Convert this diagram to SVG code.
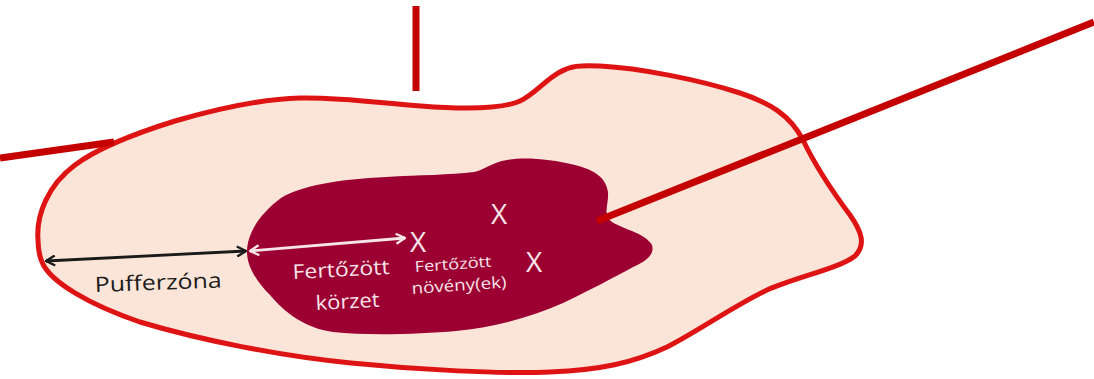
<svg xmlns="http://www.w3.org/2000/svg" width="1094" height="379" viewBox="0 0 1094 379">
<defs>
<style>
.conn{stroke:#C40000;stroke-width:7;fill:none;stroke-linecap:butt}
.lbl{font-family:"Open Sans","Liberation Sans",sans-serif}
.w{fill:#F6E4EA}
.x{font-family:"Open Sans","Liberation Sans",sans-serif;font-size:28px;fill:#F6E4EA;text-anchor:middle}
</style>
<marker id="hb" viewBox="0 0 12 12" refX="11" refY="6" markerWidth="12" markerHeight="12" markerUnits="userSpaceOnUse" orient="auto-start-reverse">
<path d="M2,1 L11,6 L2,11" fill="none" stroke="#1a1a1a" stroke-width="2.4"/>
</marker>
<marker id="hw" viewBox="0 0 12 12" refX="11" refY="6" markerWidth="12" markerHeight="12" markerUnits="userSpaceOnUse" orient="auto-start-reverse">
<path d="M2,1 L11,6 L2,11" fill="none" stroke="#F6E4EA" stroke-width="2.4"/>
</marker>
</defs>
<rect width="1094" height="379" fill="#FFFFFF"/>
<g id="pufferzona">
<path d="M38,240 C36,215 48,185 75,165 C95,150 130,135 175,121 C220,108 260,99 300,98 C340,97 380,103 421,106 C460,109 500,110 520,101 C535,94 545,80 560,72 C570,66 580,65 600,66 C640,68 700,80 740,93 C770,103 790,115 803,140 C815,165 835,195 850,215 C862,232 866,245 855,256 C840,268 800,276 767,290 C735,305 700,330 667,347 C633,363 600,370 550,372 C500,374 420,370 351,363 C280,356 200,340 140,322 C90,305 50,282 42,262 C39,255 38,248 38,240 Z" fill="#FBE5D8" stroke="#DE1414" stroke-width="5"/>
<text class="lbl" x="95" y="292" font-size="21" fill="#1c1c1c" textLength="127" lengthAdjust="spacingAndGlyphs" transform="rotate(-2 95 292)">Pufferzóna</text>
</g>
<g id="fertozott-korzet">
<path d="M247,252 C247,235 258,215 281,198 C300,186 340,179 386,177 C420,175 450,175 474,172 C485,170 492,162 507,160 C525,157 550,159 575,165 C595,170 606,178 608,192 C609,205 602,214 612,222 C625,230 645,233 652,245 C655,255 645,262 633,267 C615,277 590,290 563,303 C530,318 490,328 456,331 C420,334 370,336 333,332 C305,328 285,313 270,295 C255,280 247,265 247,252 Z" fill="#9C0032"/>
<text class="lbl w" x="293" y="279" font-size="20" textLength="97" lengthAdjust="spacingAndGlyphs" transform="rotate(-3 293 279)">Fertőzött</text>
<text class="lbl w" x="316" y="310" font-size="20" textLength="64" lengthAdjust="spacingAndGlyphs" transform="rotate(-3 316 310)">körzet</text>
</g>
<g id="fertozott-novenyek">
<text class="x" x="418" y="252">X</text>
<text class="x" x="499" y="224">X</text>
<text class="x" x="534" y="272">X</text>
<text class="lbl w" x="415" y="272" font-size="15" textLength="77" lengthAdjust="spacingAndGlyphs" transform="rotate(-4 415 272)">Fertőzött</text>
<text class="lbl w" x="412" y="294" font-size="16" textLength="95" lengthAdjust="spacingAndGlyphs" transform="rotate(-4 412 294)">növény(ek)</text>
</g>
<g id="connectors">
<line class="conn" x1="416" y1="6" x2="416" y2="91"/>
<line class="conn" x1="0" y1="158" x2="114" y2="142"/>
<line class="conn" x1="1094" y1="22" x2="597" y2="221"/>
<line x1="46" y1="261" x2="246" y2="251" stroke="#1a1a1a" stroke-width="2.8" marker-start="url(#hb)" marker-end="url(#hb)"/>
<line x1="250" y1="251" x2="405" y2="238" stroke="#F6E4EA" stroke-width="2.8" marker-start="url(#hw)" marker-end="url(#hw)"/>
</g>
</svg>
